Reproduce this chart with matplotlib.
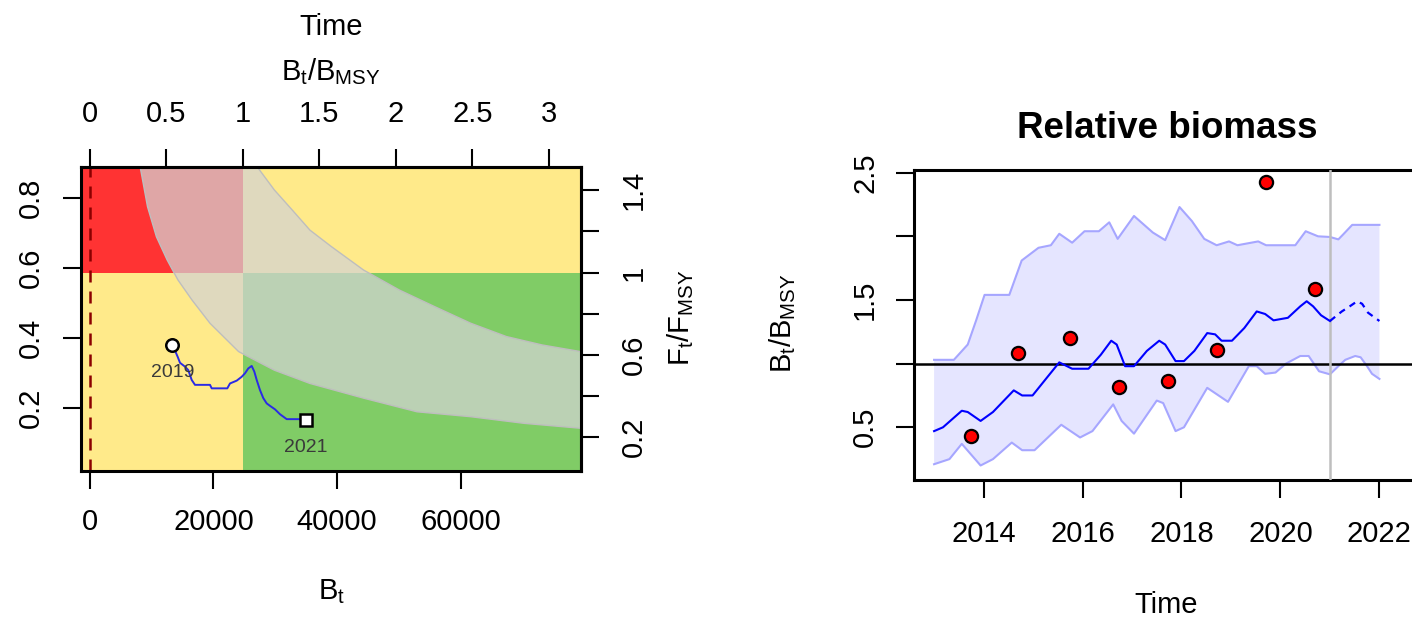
import matplotlib
matplotlib.use("Agg")
import matplotlib.pyplot as plt
import numpy as np

plt.rcParams['font.family'] = ['Liberation Sans', 'DejaVu Sans']
plt.rcParams['mathtext.fontset'] = 'custom'
plt.rcParams['mathtext.rm'] = 'Liberation Sans'
plt.rcParams['mathtext.it'] = 'Liberation Sans'
plt.rcParams['mathtext.bf'] = 'Liberation Sans:bold'

W, H = 1412, 617

# ---- kobe plot ----
b_msy = 24750
f_msy = 0.588

# edges of the grey band (biomass, fishing mortality)
band_hi_b = [27250, 29850, 32730, 35620, 39080, 44290, 50060, 55840, 61610, 67380, 73150, 79390]
band_hi_f = [0.886, 0.824, 0.767, 0.709, 0.662, 0.595, 0.538, 0.490, 0.443, 0.405, 0.381, 0.362]
band_lo_b = [8200, 9350, 10790, 12520, 14260, 16560, 19450, 24080, 29850, 35620, 44290, 52940, 61610, 70270, 79390]
band_lo_f = [0.886, 0.776, 0.690, 0.624, 0.567, 0.509, 0.443, 0.362, 0.309, 0.271, 0.229, 0.190, 0.176, 0.157, 0.143]

# trajectory 2019 -> 2021
traj_b = [13357, 13793, 14230, 14602, 15411, 15944, 16494, 17027, 19453, 19727, 22250, 22687,
          23770, 24578, 25112, 25646, 26195, 26616, 27004, 27538, 28072, 28621, 29155, 29964,
          30772, 31855, 33731, 34927]
traj_f = [0.381, 0.365, 0.347, 0.330, 0.319, 0.309, 0.281, 0.267, 0.267, 0.257, 0.257, 0.271,
          0.279, 0.290, 0.300, 0.314, 0.321, 0.305, 0.281, 0.252, 0.229, 0.214, 0.207, 0.197,
          0.183, 0.169, 0.169, 0.167]
traj_years = ['2019', '2021']

# ---- relative biomass ----
index_t = [2013.75, 2014.70, 2015.74, 2016.73, 2017.72, 2018.71, 2019.70, 2020.69]
index_v = [0.43, 1.08, 1.20, 0.82, 0.86, 1.11, 2.43, 1.59]

est_t = [2013.0, 2013.18, 2013.56, 2013.68, 2013.94, 2014.19, 2014.61, 2014.78, 2014.99, 2015.28,
         2015.53, 2015.79, 2016.12, 2016.37, 2016.58, 2016.69, 2016.86, 2017.04, 2017.30, 2017.55,
         2017.67, 2017.88, 2018.05, 2018.26, 2018.52, 2018.68, 2018.81, 2019.02, 2019.27, 2019.52,
         2019.69, 2019.86, 2020.15, 2020.40, 2020.53, 2020.66, 2020.82, 2021.0, 2021.24, 2021.40,
         2021.55, 2021.65, 2021.77, 2022.0]
est_v = [0.47, 0.50, 0.63, 0.62, 0.55, 0.62, 0.79, 0.75, 0.75, 0.89,
         1.01, 0.96, 0.96, 1.07, 1.18, 1.15, 0.98, 0.98, 1.10, 1.18,
         1.15, 1.02, 1.02, 1.10, 1.24, 1.23, 1.18, 1.18, 1.28, 1.41,
         1.39, 1.34, 1.36, 1.45, 1.49, 1.45, 1.38, 1.335, 1.41, 1.45,
         1.49, 1.47, 1.40, 1.335]

ci_hi_t = [2013.0, 2013.40, 2013.68, 2013.85, 2014.02, 2014.52, 2014.77, 2015.11, 2015.36, 2015.53,
           2015.79, 2016.04, 2016.33, 2016.54, 2016.71, 2017.04, 2017.42, 2017.67, 2017.96, 2018.21,
           2018.46, 2018.71, 2018.96, 2019.13, 2019.55, 2019.71, 2020.30, 2020.51, 2020.76, 2021.0,
           2021.17, 2021.27, 2021.45, 2022.0]
ci_hi_v = [1.03, 1.03, 1.15, 1.34, 1.54, 1.54, 1.81, 1.91, 1.93, 2.02,
           1.95, 2.04, 2.04, 2.11, 1.98, 2.16, 2.03, 1.97, 2.23, 2.12,
           1.98, 1.93, 1.96, 1.93, 1.96, 1.93, 1.93, 2.04, 2.00, 1.995,
           1.976, 2.016, 2.09, 2.09]
ci_lo_t = [2013.0, 2013.31, 2013.56, 2013.94, 2014.19, 2014.57, 2014.78, 2015.03, 2015.57, 2015.95,
           2016.20, 2016.62, 2016.79, 2017.04, 2017.50, 2017.63, 2017.88, 2018.05, 2018.52, 2018.94,
           2019.36, 2019.52, 2019.69, 2019.90, 2020.11, 2020.40, 2020.57, 2020.78, 2021.0, 2021.17,
           2021.31, 2021.51, 2021.62, 2021.75, 2021.85, 2022.0]
ci_lo_v = [0.21, 0.25, 0.37, 0.20, 0.25, 0.38, 0.32, 0.32, 0.52, 0.42,
           0.47, 0.68, 0.55, 0.45, 0.71, 0.69, 0.47, 0.50, 0.81, 0.70,
           0.98, 0.98, 0.92, 0.93, 1.00, 1.06, 1.06, 0.94, 0.916, 0.98,
           1.03, 1.06, 1.05, 0.98, 0.92, 0.88]
last_obs = 2021

FS = 21


def box(l, t, r, b):
    # pixel box -> figure fraction [left, bottom, width, height]
    return [l / W, 1 - b / H, (r - l) / W, (b - t) / H]


def fxy(x, y):
    return x / W, 1 - y / H


fig = plt.figure(figsize=(W / 100, H / 100), dpi=100)

# ================= kobe panel =================
ax1 = fig.add_axes(box(80.7, 167.3, 581, 470.7))
x0, x1 = -1455, 79445
y0, y1 = 0.0217, 0.8886
ax1.set_xlim(x0, x1)
ax1.set_ylim(y0, y1)

ax1.fill_between([x0, b_msy], f_msy, y1, color='#FF3333', lw=0, zorder=0)
ax1.fill_between([b_msy, x1], f_msy, y1, color='#FFEA8A', lw=0, zorder=0)
ax1.fill_between([x0, b_msy], y0, f_msy, color='#FFEA8A', lw=0, zorder=0)
ax1.fill_between([b_msy, x1], y0, f_msy, color='#80CC66', lw=0, zorder=0)

ax1.fill(band_lo_b + band_hi_b[::-1], band_lo_f + band_hi_f[::-1],
         color='#D3D3D3', alpha=0.72, lw=0, zorder=1)
ax1.plot(band_hi_b, band_hi_f, color='#BEBEBE', lw=1.0, zorder=1)
ax1.plot(band_lo_b, band_lo_f, color='#BEBEBE', lw=1.0, zorder=1)

ax1.axvline(0, color='#8B0000', lw=1.8, ls=(0, (4.8, 3.6)), zorder=2)

ax1.plot(traj_b, traj_f, color='#2A2AE6', lw=1.4, zorder=3)
ax1.plot(traj_b[0], traj_f[0], 'o', ms=9, mfc='white', mec='black', mew=1.8, zorder=4)
ax1.plot(traj_b[-1], traj_f[-1], 's', ms=9, mfc='white', mec='black', mew=1.8, zorder=4)
for (b, f), yr in zip([(traj_b[0], traj_f[0]), (traj_b[-1], traj_f[-1])], traj_years):
    ax1.annotate(yr, (b, f), xytext=(0, -20), textcoords='offset points',
                 ha='center', va='center', fontsize=14, color='#3A3A3A', zorder=5)

for s in ax1.spines.values():
    s.set_linewidth(2.2)
ax1.set_xticks([0, 20000, 40000, 60000], ['0', '20000', '40000', '60000'])
ax1.set_yticks([0.2, 0.4, 0.6, 0.8], ['0.2', '0.4', '0.6', '0.8'])
ax1.tick_params(axis='x', length=13, width=1.5, labelsize=FS, pad=14)
ax1.tick_params(axis='y', length=13, width=1.5, labelsize=FS, pad=13, labelrotation=90)
for lab in ax1.get_yticklabels():
    lab.set_va('center')

top = ax1.secondary_xaxis('top', functions=(lambda b: b / b_msy, lambda r: r * b_msy))
top.set_xticks(np.arange(0, 3.01, 0.5), ['0', '0.5', '1', '1.5', '2', '2.5', '3'])
top.tick_params(axis='x', length=13, width=1.5, labelsize=FS, pad=15)
top.spines['top'].set_linewidth(2.2)

right = ax1.secondary_yaxis('right', functions=(lambda f: f / f_msy, lambda r: r * f_msy))
right.set_yticks([0.2, 0.4, 0.6, 0.8, 1.0, 1.2, 1.4], ['0.2', '', '0.6', '', '1', '', '1.4'])
right.tick_params(axis='y', length=13, width=1.5, labelsize=FS, pad=15, labelrotation=90)
right.spines['right'].set_linewidth(2.2)
for lab in right.get_yticklabels():
    lab.set_va('center')

fig.text(*fxy(331, 27), 'Time', ha='center', va='center', fontsize=FS)
fig.text(*fxy(331, 72), r'$\mathrm{B_t/B_{MSY}}$', ha='center', va='center', fontsize=FS)
fig.text(*fxy(332, 592), r'$\mathrm{B_t}$', ha='center', va='center', fontsize=FS)
fig.text(*fxy(681, 318), r'$\mathrm{F_t/F_{MSY}}$', ha='center', va='center',
         fontsize=FS, rotation=90)

# ================= relative biomass panel =================
ax2 = fig.add_axes(box(913.8, 170, 1420, 480))
ax2.set_xlim(2012.59, 2022.82)
ax2.set_ylim(0.086, 2.521)

ax2.fill(ci_hi_t + ci_lo_t[::-1], ci_hi_v + ci_lo_v[::-1], color='#E5E5FF', lw=0, zorder=1)
ax2.plot(ci_hi_t, ci_hi_v, color='#A6A6FF', lw=1.5, zorder=2)
ax2.plot(ci_lo_t, ci_lo_v, color='#A6A6FF', lw=1.5, zorder=2)

ax2.axhline(1, color='black', lw=1.8, zorder=3)
ax2.axvline(last_obs, color='#BEBEBE', lw=1.8, zorder=3)

est_t = np.array(est_t)
est_v = np.array(est_v)
fit = est_t <= last_obs
pred = est_t >= last_obs
ax2.plot(est_t[fit], est_v[fit], color='#0000FF', lw=1.5, zorder=4)
ax2.plot(est_t[pred], est_v[pred], color='#0000FF', lw=1.6, ls=(0, (3, 2.5)), zorder=4)

ax2.plot(index_t, index_v, 'o', ms=9.5, mfc='#FF0000', mec='black', mew=1.6, zorder=5)

for s in ax2.spines.values():
    s.set_linewidth(2.2)
ax2.set_xticks([2014, 2016, 2018, 2020, 2022], ['2014', '2016', '2018', '2020', '2022'])
ax2.set_yticks([0.5, 1.0, 1.5, 2.0, 2.5], ['0.5', '', '1.5', '', '2.5'])
ax2.tick_params(axis='x', length=13, width=1.5, labelsize=FS, pad=16)
ax2.tick_params(axis='y', length=13, width=1.5, labelsize=FS, pad=12, labelrotation=90)
for lab in ax2.get_yticklabels():
    lab.set_va('center')

fig.text(*fxy(1167, 128), 'Relative biomass', ha='center', va='center',
         fontsize=26.5, fontweight='bold')
fig.text(*fxy(1166, 605), 'Time', ha='center', va='center', fontsize=FS)
fig.text(*fxy(783, 323), r'$\mathrm{B_t/B_{MSY}}$', ha='center', va='center',
         fontsize=FS, rotation=90)

fig.savefig('out.png', dpi=100)
